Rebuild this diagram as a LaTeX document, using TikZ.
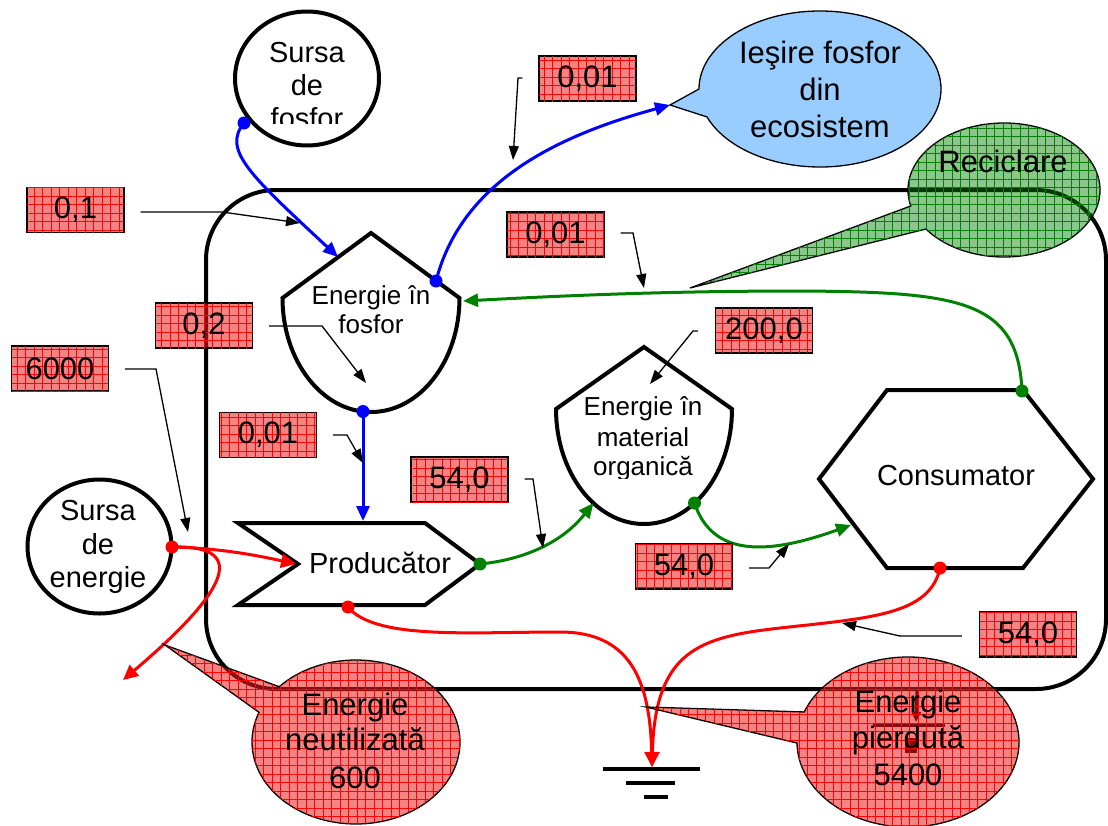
\documentclass[tikz,border=0pt]{standalone}
\usepackage{fontspec}
\setmainfont{Liberation Sans}
\usetikzlibrary{arrows.meta,patterns.meta,calc}

\definecolor{flowblue}{RGB}{0,0,255}
\definecolor{flowgreen}{RGB}{0,128,0}
\definecolor{flowred}{RGB}{255,0,0}
\definecolor{skyfill}{RGB}{153,204,255}
\definecolor{tagred}{RGB}{235,30,30}

\tikzset{
  outline/.style={draw=black, line width=4pt},
  flow/.style={line width=3pt},
  blueflow/.style={flow, draw=flowblue, -{Triangle[length=15pt,width=13pt]}},
  greenflow/.style={flow, draw=flowgreen, -{Triangle[length=15pt,width=13pt]}},
  redflow/.style={flow, draw=flowred, -{Triangle[length=15pt,width=14pt]}},
  bluedot/.style={fill=flowblue},
  greendot/.style={fill=flowgreen},
  reddot/.style={fill=flowred},
  ptr/.style={draw=black, line width=1.3pt, -{Triangle[length=14pt,width=10pt]}},
  tag/.style={draw=black, line width=1.2pt, fill=tagred, fill opacity=0.55, text opacity=1,
    minimum width=97pt, minimum height=45pt, inner sep=0pt,
    font=\fontsize{31pt}{36pt}\selectfont,
    postaction={pattern={Hatch[distance=8.5pt,line width=0.5pt]}, pattern color=red, fill opacity=0.45}},
  redcall/.style={draw=black, line width=1.3pt, fill=tagred, fill opacity=0.55,
    postaction={pattern={Hatch[distance=8.5pt,line width=0.5pt]}, pattern color=red, fill opacity=0.45}},
  greencall/.style={draw=black, line width=1.3pt, fill=flowgreen, fill opacity=0.45,
    postaction={pattern={Hatch[distance=8.5pt,line width=0.5pt]}, pattern color=flowgreen, fill opacity=0.5}},
  bluecall/.style={draw=black, line width=1.3pt, fill=skyfill},
  t26/.style={anchor=base, inner sep=0pt, font=\fontsize{26pt}{30pt}\selectfont},
  t29/.style={anchor=base, inner sep=0pt, font=\fontsize{29pt}{34pt}\selectfont},
  t31/.style={anchor=base, inner sep=0pt, font=\fontsize{31pt}{36pt}\selectfont},
}

\begin{document}
\begin{tikzpicture}[x=1pt, y=-1pt]
\useasboundingbox (0,0) rectangle (1108,825);

% ecosystem boundary
\draw[outline, rounded corners=70pt] (206,190) rectangle (1106,689);

% --- compartments ---
% phosphorus source
\draw[outline] (307,78.5) ellipse [x radius=72, y radius=67];
\node[t29] (sf1) at (307,62) {Sursa};
\node[t29] (sf2) at (307,95) {de};
\begin{scope}
  \clip (230,0) rectangle (390,123);
  \node[t29] (sf3) at (307,128) {fosfor};
\end{scope}

% energy source
\draw[outline] (99.5,546.5) ellipse [x radius=72, y radius=67];
\node[t29] (se1) at (98,520) {Sursa};
\node[t29] (se2) at (98,554) {de};
\node[t29] (se3) at (98,587) {energie};

% energy in phosphorus (shield)
\draw[outline] (282.5,298) -- (371,233) -- (459.5,298)
  .. controls (459.5,361) and (419.9,412) .. (371,412)
  .. controls (322.1,412) and (282.5,361) .. (282.5,298) -- cycle;
\node[t26] (ef1) at (371,304) {Energie în};
\node[t26] (ef2) at (371,333) {fosfor};

% energy in organic matter (shield)
\draw[outline] (556,409) -- (644,347) -- (732,409)
  .. controls (732,472.5) and (692.6,524) .. (644,524)
  .. controls (595.4,524) and (556,472.5) .. (556,409) -- cycle;
\node[t26] (mo1) at (643,415) {Energie în};
\node[t26] (mo2) at (643,446) {material};
\begin{scope}
  \clip (560,420) rectangle (730,478);
  \node[t26] (mo3) at (643,475) {organică};
\end{scope}

% producer
\draw[outline] (238,523) -- (425,523) -- (480,564) -- (425,605) -- (238,605) -- (298,564) -- cycle;
\node[t29] (prod) at (380,573) {Producător};

% consumer
\draw[outline] (887,390) -- (1023,390) -- (1093,479) -- (1023,568) -- (887,568) -- (819,479) -- cycle;
\node[t29] (cons) at (956,485) {Consumator};

% ground
\draw[line width=4pt] (603,769) -- (700,769);
\draw[line width=4pt] (626,783) -- (675,783);
\draw[line width=4pt] (644,797) -- (668,797);

% --- attachment points ---
\coordinate (sfDot) at (244,123);
\coordinate (efIn) at (338,257);
\coordinate (efOut) at (436,281);
\coordinate (efRight) at (463,301);
\coordinate (efBot) at (363,411.5);
\coordinate (iesTip) at (670,105);
\coordinate (prTop) at (363,521);
\coordinate (prNotch) at (296,564);
\coordinate (prRight) at (480,564);
\coordinate (prBot) at (348,607);
\coordinate (moIn) at (593.5,503);
\coordinate (moOut) at (694.5,503);
\coordinate (coIn) at (851,525);
\coordinate (coTop) at (1022,391);
\coordinate (coBot) at (940,568);
\coordinate (seDot) at (172,547);
\coordinate (lostEnd) at (123,680);
\coordinate (gnd) at (652,767);

% --- flows ---
\draw[blueflow] (sfDot) .. controls (222,150) and (250,175) .. (efIn);
\draw[blueflow] (efOut) .. controls (462,180) and (560,135) .. (iesTip);
\draw[blueflow] (efBot) -- (prTop);

\draw[greenflow] (prRight) .. controls (520,560) and (560,545) .. (moIn);
\draw[greenflow] (moOut) .. controls (712,556) and (765,556) .. (coIn);
\draw[greenflow] (coTop) .. controls (1018,300) and (960,292) .. (800,291)
  .. controls (650,291) and (540,297) .. (efRight);

\draw[redflow] (seDot) .. controls (220,548) and (260,556) .. (prNotch);
\draw[redflow] (seDot) .. controls (245,545) and (235,585) .. (lostEnd);
\draw[redflow] (prBot) .. controls (375,640) and (470,632) .. (560,632)
  .. controls (630,632) and (650,680) .. (gnd);
\draw[redflow] (coBot) .. controls (930,615) and (870,618) .. (780,628)
  .. controls (700,637) and (655,650) .. (gnd);

\fill[bluedot] (sfDot) circle[radius=6.5];
\fill[bluedot] (efOut) circle[radius=6.5];
\fill[bluedot] (efBot) circle[radius=6.5];
\fill[greendot] (prRight) circle[radius=6.5];
\fill[greendot] (moOut) circle[radius=6.5];
\fill[greendot] (coTop) circle[radius=6.5];
\fill[reddot] (seDot) circle[radius=6.5];
\fill[reddot] (prBot) circle[radius=6.5];
\fill[reddot] (coBot) circle[radius=6.5];

% sink marker below the boundary
\draw[line width=3pt, -{Triangle[length=10pt,width=9pt]}] (917,689) -- (916,722);
\draw[line width=4pt] (873,725) -- (945,725);
\fill (905,738) rectangle (917,753);

% --- callouts ---
\begin{scope}[shift={(820,89)}]
  \path[bluecall] (180:121 and 78) arc[start angle=180, end angle=519, x radius=121, y radius=78] -- (-150,16) -- cycle;
\end{scope}
\node[t31] (ies1) at (820,63) {Ieşire fosfor};
\node[t31] (ies2) at (820,100) {din};
\node[t31] (ies3) at (820,137) {ecosistem};

\begin{scope}[shift={(1004,190)}]
  \path[greencall] (166.2:96 and 67) arc[start angle=166.2, end angle=504.4, x radius=96, y radius=67] -- (-314,98) -- cycle;
\end{scope}
\node[t31] (rec) at (1003,172) {Reciclare};

\begin{scope}[shift={(356,742)}]
  \path[redcall] (222.4:104 and 82) arc[start angle=222.4, end angle=561.2, x radius=104, y radius=82] -- (-191,-97) -- cycle;
\end{scope}
\node[t31] (nu1) at (355,715) {Energie};
\node[t31] (nu2) at (355,750) {neutilizată};
\node[t31] (nu3) at (355,788) {600};

\begin{scope}[shift={(908,742)}]
  \path[redcall] (200.7:111 and 85) arc[start angle=200.7, end angle=539.3, x radius=111, y radius=85] -- (-262,-35) -- cycle;
\end{scope}
\node[t31] (pi1) at (908,712) {Energie};
\node[t31] (pi2) at (908,748) {pierdută};
\node[t31] (pi3) at (908,785) {5400};

% --- value tags ---
\node[tag] (v1) at (75.5,210) {0,1};
\node[tag] (v2) at (204,325.5) {0,2};
\node[tag] (v3) at (60,368.5) {6000};
\node[tag] (v4) at (268,435) {0,01};
\node[tag] (v5) at (555.5,234.5) {0,01};
\node[tag] (v6) at (587.5,78.5) {0,01};
\node[tag] (v7) at (764,330.5) {200,0};
\node[tag] (v8) at (459.5,479.5) {54,0};
\node[tag] (v9) at (684,566.5) {54,0};
\node[tag] (v10) at (1028,634.5) {54,0};

% tag pointers
\draw[ptr] ($(v1.east)+(16,2)$) -- (222,212) -- (300,223);
\draw[ptr] ($(v2.east)+(16,0.5)$) -- (322,326) -- (366,383);
\draw[ptr] ($(v3.east)+(16,0.5)$) -- (156,369) -- (188,532);
\draw[ptr] ($(v4.east)+(16,0)$) -- (347,435) -- (363,463);
\draw[ptr] ($(v5.east)+(16,-1.5)$) -- (633,233) -- (644,288);
\draw[ptr] ($(v6.west)+(-16,-0.5)$) -- (518,78) -- (513,160);
\draw[ptr] ($(v7.west)+(-17,0.5)$) -- (693,331) -- (650,384);
\draw[ptr] ($(v8.east)+(16,-0.5)$) -- (533,479) -- (543,548);
\draw[ptr] ($(v9.east)+(16,1.5)$) -- (769,568) -- (789,544);
\draw[ptr] ($(v10.west)+(-17,1.5)$) -- (900,636) -- (842,623);
\end{tikzpicture}
\end{document}
